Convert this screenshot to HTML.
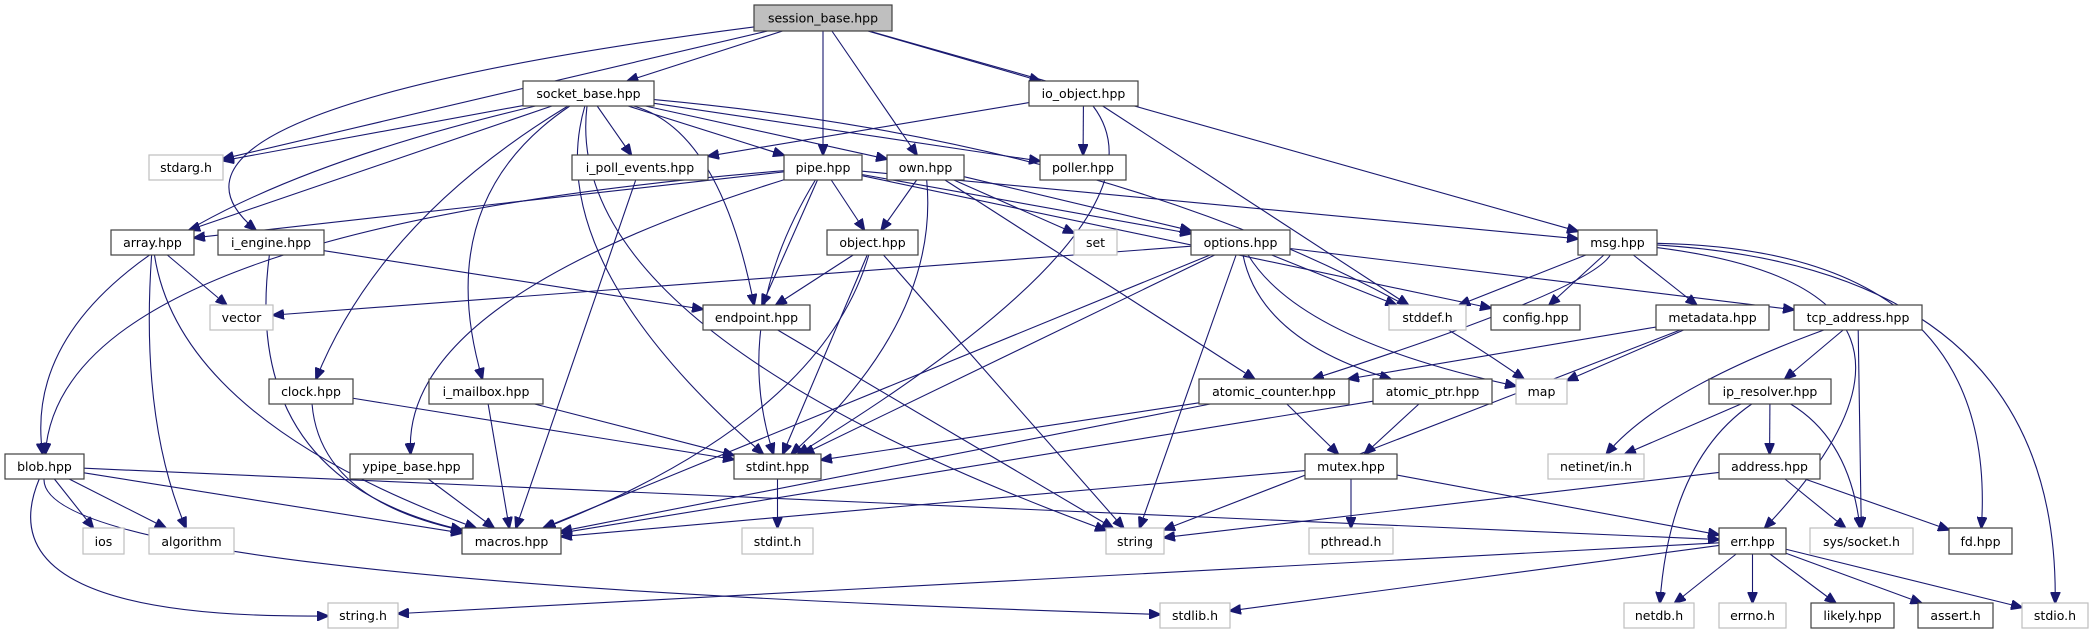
<!DOCTYPE html>
<html><head><meta charset="utf-8"><style>
html,body{margin:0;padding:0;background:#fff;}
svg{display:block;}
text{font-family:"DejaVu Sans","Liberation Sans",sans-serif;font-size:12.5px;fill:#000;}
</style></head><body>
<svg id="g" width="2094" height="635" viewBox="0 0 2094 635" xmlns="http://www.w3.org/2000/svg">
<defs><marker id="a" markerWidth="12" markerHeight="10" refX="11" refY="5" orient="auto" markerUnits="userSpaceOnUse"><path d="M0,0 L12,5 L0,10 z" fill="#191970" stroke="#191970"/></marker></defs>
<g id="edges" fill="none" stroke="#191970" stroke-width="1.1"></g>
<g id="nodes">
<rect x="754" y="5" width="138" height="26" fill="#bfbfbf" stroke="#404040" stroke-width="1.2"/><text x="823" y="22.5" text-anchor="middle">session_base.hpp</text>
<rect x="523" y="81" width="131" height="25" fill="#fff" stroke="#404040" stroke-width="1.2"/><text x="588.5" y="98" text-anchor="middle">socket_base.hpp</text>
<rect x="1029" y="81" width="109" height="25" fill="#fff" stroke="#404040" stroke-width="1.2"/><text x="1083.5" y="98" text-anchor="middle">io_object.hpp</text>
<rect x="149" y="155" width="74" height="25" fill="#fff" stroke="#bfbfbf" stroke-width="1.2"/><text x="186" y="172" text-anchor="middle">stdarg.h</text>
<rect x="572" y="155" width="136" height="25" fill="#fff" stroke="#404040" stroke-width="1.2"/><text x="640" y="172" text-anchor="middle">i_poll_events.hpp</text>
<rect x="784" y="155" width="78" height="25" fill="#fff" stroke="#404040" stroke-width="1.2"/><text x="823" y="172" text-anchor="middle">pipe.hpp</text>
<rect x="887" y="155" width="77" height="25" fill="#fff" stroke="#404040" stroke-width="1.2"/><text x="925.5" y="172" text-anchor="middle">own.hpp</text>
<rect x="1040" y="155" width="86" height="25" fill="#fff" stroke="#404040" stroke-width="1.2"/><text x="1083" y="172" text-anchor="middle">poller.hpp</text>
<rect x="111" y="230" width="83" height="25" fill="#fff" stroke="#404040" stroke-width="1.2"/><text x="152.5" y="247" text-anchor="middle">array.hpp</text>
<rect x="218" y="230" width="106" height="25" fill="#fff" stroke="#404040" stroke-width="1.2"/><text x="271" y="247" text-anchor="middle">i_engine.hpp</text>
<rect x="827" y="230" width="91" height="25" fill="#fff" stroke="#404040" stroke-width="1.2"/><text x="872.5" y="247" text-anchor="middle">object.hpp</text>
<rect x="1074" y="230" width="43" height="25" fill="#fff" stroke="#bfbfbf" stroke-width="1.2"/><text x="1095.5" y="247" text-anchor="middle">set</text>
<rect x="1191" y="230" width="99" height="25" fill="#fff" stroke="#404040" stroke-width="1.2"/><text x="1240.5" y="247" text-anchor="middle">options.hpp</text>
<rect x="1578" y="230" width="79" height="25" fill="#fff" stroke="#404040" stroke-width="1.2"/><text x="1617.5" y="247" text-anchor="middle">msg.hpp</text>
<rect x="210" y="305" width="63" height="25" fill="#fff" stroke="#bfbfbf" stroke-width="1.2"/><text x="241.5" y="322" text-anchor="middle">vector</text>
<rect x="703" y="305" width="107" height="25" fill="#fff" stroke="#404040" stroke-width="1.2"/><text x="756.5" y="322" text-anchor="middle">endpoint.hpp</text>
<rect x="1389" y="305" width="77" height="25" fill="#fff" stroke="#bfbfbf" stroke-width="1.2"/><text x="1427.5" y="322" text-anchor="middle">stddef.h</text>
<rect x="1491" y="305" width="89" height="25" fill="#fff" stroke="#404040" stroke-width="1.2"/><text x="1535.5" y="322" text-anchor="middle">config.hpp</text>
<rect x="1656" y="305" width="113" height="25" fill="#fff" stroke="#404040" stroke-width="1.2"/><text x="1712.5" y="322" text-anchor="middle">metadata.hpp</text>
<rect x="1794" y="305" width="128" height="25" fill="#fff" stroke="#404040" stroke-width="1.2"/><text x="1858" y="322" text-anchor="middle">tcp_address.hpp</text>
<rect x="269" y="379" width="84" height="25" fill="#fff" stroke="#404040" stroke-width="1.2"/><text x="311" y="396" text-anchor="middle">clock.hpp</text>
<rect x="429" y="379" width="114" height="25" fill="#fff" stroke="#404040" stroke-width="1.2"/><text x="486" y="396" text-anchor="middle">i_mailbox.hpp</text>
<rect x="1199" y="379" width="150" height="25" fill="#fff" stroke="#404040" stroke-width="1.2"/><text x="1274" y="396" text-anchor="middle">atomic_counter.hpp</text>
<rect x="1373" y="379" width="119" height="25" fill="#fff" stroke="#404040" stroke-width="1.2"/><text x="1432.5" y="396" text-anchor="middle">atomic_ptr.hpp</text>
<rect x="1516" y="379" width="51" height="25" fill="#fff" stroke="#bfbfbf" stroke-width="1.2"/><text x="1541.5" y="396" text-anchor="middle">map</text>
<rect x="1709" y="379" width="122" height="25" fill="#fff" stroke="#404040" stroke-width="1.2"/><text x="1770" y="396" text-anchor="middle">ip_resolver.hpp</text>
<rect x="5" y="454" width="79" height="25" fill="#fff" stroke="#404040" stroke-width="1.2"/><text x="44.5" y="471" text-anchor="middle">blob.hpp</text>
<rect x="350" y="454" width="123" height="25" fill="#fff" stroke="#404040" stroke-width="1.2"/><text x="411.5" y="471" text-anchor="middle">ypipe_base.hpp</text>
<rect x="734" y="454" width="87" height="25" fill="#fff" stroke="#404040" stroke-width="1.2"/><text x="777.5" y="471" text-anchor="middle">stdint.hpp</text>
<rect x="1305" y="454" width="92" height="25" fill="#fff" stroke="#404040" stroke-width="1.2"/><text x="1351" y="471" text-anchor="middle">mutex.hpp</text>
<rect x="1548" y="454" width="96" height="25" fill="#fff" stroke="#bfbfbf" stroke-width="1.2"/><text x="1596" y="471" text-anchor="middle">netinet/in.h</text>
<rect x="1719" y="454" width="101" height="25" fill="#fff" stroke="#404040" stroke-width="1.2"/><text x="1769.5" y="471" text-anchor="middle">address.hpp</text>
<rect x="83" y="528" width="41" height="26" fill="#fff" stroke="#bfbfbf" stroke-width="1.2"/><text x="103.5" y="546" text-anchor="middle">ios</text>
<rect x="149" y="528" width="85" height="26" fill="#fff" stroke="#bfbfbf" stroke-width="1.2"/><text x="191.5" y="546" text-anchor="middle">algorithm</text>
<rect x="462" y="528" width="99" height="26" fill="#fff" stroke="#404040" stroke-width="1.2"/><text x="511.5" y="546" text-anchor="middle">macros.hpp</text>
<rect x="742" y="528" width="71" height="26" fill="#fff" stroke="#bfbfbf" stroke-width="1.2"/><text x="777.5" y="546" text-anchor="middle">stdint.h</text>
<rect x="1106" y="528" width="58" height="26" fill="#fff" stroke="#bfbfbf" stroke-width="1.2"/><text x="1135" y="546" text-anchor="middle">string</text>
<rect x="1309" y="528" width="84" height="26" fill="#fff" stroke="#bfbfbf" stroke-width="1.2"/><text x="1351" y="546" text-anchor="middle">pthread.h</text>
<rect x="1719" y="528" width="67" height="26" fill="#fff" stroke="#404040" stroke-width="1.2"/><text x="1752.5" y="546" text-anchor="middle">err.hpp</text>
<rect x="1810" y="528" width="103" height="26" fill="#fff" stroke="#bfbfbf" stroke-width="1.2"/><text x="1861.5" y="546" text-anchor="middle">sys/socket.h</text>
<rect x="1949" y="528" width="63" height="26" fill="#fff" stroke="#404040" stroke-width="1.2"/><text x="1980.5" y="546" text-anchor="middle">fd.hpp</text>
<rect x="328" y="603" width="70" height="25" fill="#fff" stroke="#bfbfbf" stroke-width="1.2"/><text x="363" y="620" text-anchor="middle">string.h</text>
<rect x="1160" y="603" width="70" height="25" fill="#fff" stroke="#bfbfbf" stroke-width="1.2"/><text x="1195" y="620" text-anchor="middle">stdlib.h</text>
<rect x="1624" y="603" width="70" height="25" fill="#fff" stroke="#bfbfbf" stroke-width="1.2"/><text x="1659" y="620" text-anchor="middle">netdb.h</text>
<rect x="1719" y="603" width="67" height="25" fill="#fff" stroke="#bfbfbf" stroke-width="1.2"/><text x="1752.5" y="620" text-anchor="middle">errno.h</text>
<rect x="1811" y="603" width="83" height="25" fill="#fff" stroke="#404040" stroke-width="1.2"/><text x="1852.5" y="620" text-anchor="middle">likely.hpp</text>
<rect x="1918" y="603" width="75" height="25" fill="#fff" stroke="#404040" stroke-width="1.2"/><text x="1955.5" y="620" text-anchor="middle">assert.h</text>
<rect x="2022" y="603" width="66" height="25" fill="#fff" stroke="#bfbfbf" stroke-width="1.2"/><text x="2055" y="620" text-anchor="middle">stdio.h</text>
</g>
</svg>
<script>
(function(){
var N={};
document.querySelectorAll('#nodes rect').forEach(function(r){
 var t=r.nextElementSibling.textContent;
 N[t]={x:+r.getAttribute('x'),y:+r.getAttribute('y'),w:+r.getAttribute('width'),h:+r.getAttribute('height')};
});
var E=[
['session_base.hpp','socket_base.hpp'],['session_base.hpp','stdarg.h'],['session_base.hpp','i_engine.hpp',[110,110]],['session_base.hpp','pipe.hpp'],['session_base.hpp','own.hpp'],['session_base.hpp','io_object.hpp'],['session_base.hpp','msg.hpp'],
['socket_base.hpp','stdarg.h'],['socket_base.hpp','array.hpp'],['socket_base.hpp','blob.hpp',[10,230]],['socket_base.hpp','clock.hpp',[380,220]],['socket_base.hpp','i_mailbox.hpp',[430,200]],['socket_base.hpp','stdint.hpp',[540,260]],['socket_base.hpp','string',[560,330]],['socket_base.hpp','i_poll_events.hpp'],['socket_base.hpp','endpoint.hpp',[720,130]],['socket_base.hpp','pipe.hpp'],['socket_base.hpp','own.hpp'],['socket_base.hpp','poller.hpp'],['socket_base.hpp','map',[1200,150]],
['io_object.hpp','i_poll_events.hpp'],['io_object.hpp','poller.hpp'],['io_object.hpp','stdint.hpp',[1180,220]],['io_object.hpp','stddef.h'],
['i_poll_events.hpp','macros.hpp'],
['pipe.hpp','array.hpp'],['pipe.hpp','blob.hpp',[60,230]],['pipe.hpp','object.hpp'],['pipe.hpp','endpoint.hpp'],['pipe.hpp','stdint.hpp',[730,320]],['pipe.hpp','ypipe_base.hpp',[400,300]],['pipe.hpp','options.hpp'],['pipe.hpp','msg.hpp'],['pipe.hpp','config.hpp'],
['own.hpp','object.hpp'],['own.hpp','options.hpp'],['own.hpp','set'],['own.hpp','atomic_counter.hpp'],['own.hpp','stdint.hpp',[940,320]],
['object.hpp','endpoint.hpp'],['object.hpp','stdint.hpp'],['object.hpp','string'],['object.hpp','macros.hpp',[820,420]],
['options.hpp','vector'],['options.hpp','stddef.h'],['options.hpp','tcp_address.hpp'],['options.hpp','stdint.hpp'],['options.hpp','string'],['options.hpp','atomic_ptr.hpp',[1260,340]],['options.hpp','map',[1300,340]],['options.hpp','macros.hpp'],
['msg.hpp','stddef.h'],['msg.hpp','config.hpp'],['msg.hpp','metadata.hpp'],['msg.hpp','atomic_counter.hpp',[1590,290]],['msg.hpp','err.hpp',[1990,290]],['msg.hpp','fd.hpp',[2000,250]],['msg.hpp','stdio.h',[2060,270]],
['array.hpp','vector'],['array.hpp','algorithm',[140,420]],['array.hpp','macros.hpp',[180,420]],
['i_engine.hpp','endpoint.hpp'],['i_engine.hpp','macros.hpp',[240,480]],['endpoint.hpp','string'],
['clock.hpp','stdint.hpp'],['clock.hpp','macros.hpp',[320,500]],['i_mailbox.hpp','stdint.hpp'],['i_mailbox.hpp','macros.hpp'],['ypipe_base.hpp','macros.hpp'],
['blob.hpp','ios'],['blob.hpp','algorithm'],['blob.hpp','macros.hpp'],['blob.hpp','string.h',[-20,620]],['blob.hpp','stdlib.h',[40,580]],['blob.hpp','err.hpp'],
['stdint.hpp','stdint.h'],
['metadata.hpp','map'],['metadata.hpp','atomic_counter.hpp'],['metadata.hpp','string'],
['tcp_address.hpp','ip_resolver.hpp'],['tcp_address.hpp','netinet/in.h',[1660,390]],['tcp_address.hpp','sys/socket.h'],
['atomic_counter.hpp','stdint.hpp'],['atomic_counter.hpp','mutex.hpp'],['atomic_counter.hpp','macros.hpp'],
['atomic_ptr.hpp','mutex.hpp'],['atomic_ptr.hpp','macros.hpp'],
['mutex.hpp','macros.hpp'],['mutex.hpp','pthread.h'],['mutex.hpp','err.hpp'],
['ip_resolver.hpp','netinet/in.h'],['ip_resolver.hpp','address.hpp'],['ip_resolver.hpp','sys/socket.h',[1850,440]],['ip_resolver.hpp','netdb.h',[1670,460]],
['address.hpp','string'],['address.hpp','sys/socket.h'],['address.hpp','fd.hpp'],
['err.hpp','string.h'],['err.hpp','stdlib.h'],['err.hpp','netdb.h'],['err.hpp','errno.h'],['err.hpp','likely.hpp'],['err.hpp','assert.h'],['err.hpp','stdio.h']
];
function clip(b,px,py){
 var cx=b.x+b.w/2,cy=b.y+b.h/2,dx=px-cx,dy=py-cy;
 if(dx==0&&dy==0)return[cx,cy];
 var sx=dx?(b.w/2)/Math.abs(dx):1e9,sy=dy?(b.h/2)/Math.abs(dy):1e9,s=Math.min(sx,sy);
 return[cx+dx*s,cy+dy*s];
}
var g=document.getElementById('edges'),ns='http://www.w3.org/2000/svg';
E.forEach(function(e){
 var a=N[e[0]],b=N[e[1]];if(!a||!b)return;
 var ac=[a.x+a.w/2,a.y+a.h/2],bc=[b.x+b.w/2,b.y+b.h/2];
 var path=document.createElementNS(ns,'path'),d;
 if(e[2]){
  var c=e[2],p=clip(a,c[0],c[1]),q=clip(b,c[0],c[1]);
  d='M'+p[0]+','+p[1]+' Q'+c[0]+','+c[1]+' '+q[0]+','+q[1];
 } else {
  var p=clip(a,bc[0],bc[1]),q=clip(b,ac[0],ac[1]);
  d='M'+p[0]+','+p[1]+' L'+q[0]+','+q[1];
 }
 path.setAttribute('d',d);
 path.setAttribute('marker-end','url(#a)');
 g.appendChild(path);
});
})();
</script>
</body></html>
